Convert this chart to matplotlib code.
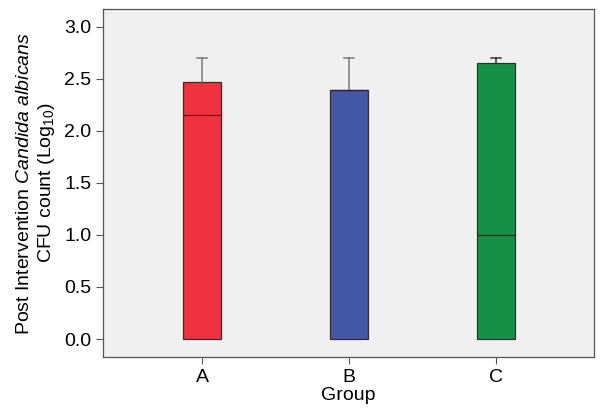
import matplotlib
matplotlib.use("Agg")
import matplotlib.pyplot as plt

plt.rcParams['font.family'] = ['Liberation Sans', 'DejaVu Sans']
plt.rcParams['mathtext.fontset'] = 'custom'
plt.rcParams['mathtext.rm'] = 'Liberation Sans'
plt.rcParams['mathtext.it'] = 'Liberation Sans:italic'

groups = ['A', 'B', 'C']
medians = [2.15, 2.39, 1.0]
q1 = [0.0, 0.0, 0.0]
q3 = [2.47, 2.39, 2.65]
whis_lo = [0.0, 0.0, 0.0]
whis_hi = [2.70, 2.70, 2.70]
colors = ['#ee333e', '#4257a6', '#168f47']
whisker_colors = ['#7a7a7a', '#7a7a7a', '#333333']

stats = []
for g, m, a, b, lo, hi in zip(groups, medians, q1, q3, whis_lo, whis_hi):
    stats.append(dict(label=g, med=m, q1=a, q3=b, whislo=lo, whishi=hi, fliers=[]))

fig = plt.figure(figsize=(6, 4.09), dpi=100)
ax = fig.add_axes([0.172, 0.127, 0.818, 0.851])
ax.set_facecolor('#f0f0f0')

bp = ax.bxp(stats, positions=[1, 2, 3], widths=0.26, capwidths=0.065,
            patch_artist=True, showfliers=False)
for i, box in enumerate(bp['boxes']):
    box.set_facecolor(colors[i])
    box.set_edgecolor('#3a2a2a')
    box.set_linewidth(0.9)
for i, med in enumerate(bp['medians']):
    med.set_color('#3a1f1f')
    med.set_linewidth(0.9)
for i in range(3):
    # lower whisker and cap sit on the box bottom, hide them
    bp['whiskers'][2 * i].set_visible(False)
    bp['caps'][2 * i].set_visible(False)
    for ln in (bp['whiskers'][2 * i + 1], bp['caps'][2 * i + 1]):
        ln.set_color(whisker_colors[i])
        ln.set_linewidth(1.1)

ax.set_xlim(0.327, 3.667)
ax.set_ylim(-0.173, 3.17)
ax.set_yticks([0, 0.5, 1.0, 1.5, 2.0, 2.5, 3.0])
ax.set_yticklabels(['0.0', '0.5', '1.0', '1.5', '2.0', '2.5', '3.0'])
ax.tick_params(axis='both', labelsize=14, color='#555555', length=5, width=0.8)
for s in ax.spines.values():
    s.set_color('#555555')
    s.set_linewidth(0.9)

ax.set_xlabel('Group', fontsize=14, labelpad=1)
ax.set_ylabel('Post Intervention $\\mathit{Candida\\ albicans}$\nCFU count (Log$_{10}$)',
              fontsize=14, labelpad=5)

fig.savefig('out.png', dpi=100)
